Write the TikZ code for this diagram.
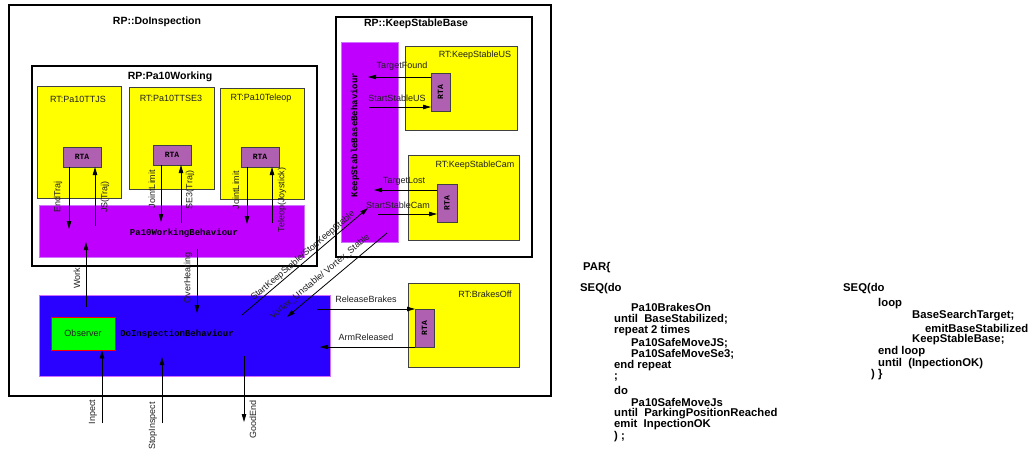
\documentclass[tikz,border=0pt]{standalone}
\usepackage{fontspec}
\setmainfont{Liberation Sans}
\newfontfamily\behfont{Liberation Mono}
\usetikzlibrary{arrows.meta}
\definecolor{rtfill}{HTML}{FFFF00}
\definecolor{rtdraw}{HTML}{404040}
\definecolor{behfill}{HTML}{BF00FF}
\definecolor{behdraw}{HTML}{D070FF}
\definecolor{mainfill}{HTML}{2A00FF}
\definecolor{rtafill}{HTML}{B060B0}
\definecolor{obsfill}{HTML}{00FF00}
\definecolor{lblcol}{HTML}{202020}
\begin{document}
\begin{tikzpicture}[x=1pt,y=-1pt,
  rpbox/.style={draw=black,line width=1.1pt,fill=white,inner sep=0pt,outer sep=0pt},
  rtbox/.style={draw=rtdraw,line width=0.8pt,fill=rtfill,inner sep=0pt,outer sep=0pt},
  behbox/.style={draw=behdraw,line width=0.6pt,fill=behfill,inner sep=0pt,outer sep=0pt},
  rtabox/.style={draw=rtdraw,line width=0.8pt,fill=rtafill,inner sep=0pt,outer sep=0pt,
    font=\behfont\bfseries\fontsize{8}{9}\selectfont},
  rptitle/.style={font=\bfseries\fontsize{10.5}{12}\selectfont,inner sep=0pt},
  rttitle/.style={font=\fontsize{9}{10}\selectfont,text=lblcol,inner sep=0pt},
  lbl/.style={font=\fontsize{9}{10}\selectfont,text=lblcol,inner sep=0pt},
  vlbl/.style={lbl,rotate=90},
  behtext/.style={font=\behfont\bfseries\fontsize{9}{10}\selectfont,inner sep=0pt},
  code/.style={font=\bfseries\fontsize{11.3}{12}\selectfont,inner sep=0pt,anchor=west},
  arr/.style={line width=0.8pt,-{Triangle[length=8pt,width=4.5pt]}},
]
\useasboundingbox (0,0) rectangle (1033,453);

% ---------- RP::DoInspection ----------
\node[rpbox,minimum width=542pt,minimum height=391pt] (outer) at (280,200.5) {};
\node[rptitle] (outert) at (157,22) {RP::DoInspection};

% ---------- RP:Pa10Working ----------
\node[rpbox,minimum width=285pt,minimum height=200pt] (pw) at (174.5,166) {};
\node[rptitle] (pwt) at (170,77) {RP:Pa10Working};

\node[rtbox,minimum width=84pt,minimum height=112pt] (ttjs) at (79,142) {};
\node[rttitle] at (78,99) {RT:Pa10TTJS};
\node[rtbox,minimum width=85pt,minimum height=102pt] (ttse) at (171.5,138) {};
\node[rttitle] at (171,98) {RT:Pa10TTSE3};
\node[rtbox,minimum width=84pt,minimum height=111pt] (tele) at (262,143.5) {};
\node[rttitle] at (261,98) {RT:Pa10Teleop};

\node[behbox,minimum width=265pt,minimum height=52pt] (pwb) at (171.5,231) {};
\node[behtext] at (184,233) {Pa10WorkingBehaviour};

\node[rtabox,minimum width=38pt,minimum height=20pt] (rta1) at (82,157) {RTA};
\node[rtabox,minimum width=38pt,minimum height=20pt] (rta2) at (172,155) {RTA};
\node[rtabox,minimum width=38pt,minimum height=20pt] (rta3) at (260,157) {RTA};

% ---------- DoInspection behaviour ----------
\node[draw=behdraw,line width=0.8pt,fill=mainfill,inner sep=0pt,minimum width=291pt,minimum height=81pt] (dib) at (184.5,335.5) {};
\node[behtext] at (177,334) {DoInspectionBehaviour};
\node[draw=red,line width=0.8pt,fill=obsfill,inner sep=0pt,minimum width=64pt,minimum height=33pt,
  font=\fontsize{9}{10}\selectfont,text=lblcol] (obs) at (83,333.5) {Observer};

% ---------- RP::KeepStableBase ----------
\node[rpbox,minimum width=196pt,minimum height=240pt] (ksb) at (434,137) {};
\node[rptitle] at (416,24) {RP::KeepStableBase};
\node[behbox,minimum width=57pt,minimum height=200pt] (ksbb) at (369.5,142) {};
\node[behtext,rotate=90] at (355,135) {KeepStableBaseBehaviour};

\node[rtbox,minimum width=112pt,minimum height=84pt] (ksus) at (461,88) {};
\node[rttitle] at (475,55) {RT:KeepStableUS};
\node[rtabox,minimum width=19pt,minimum height=38pt] (rtaus) at (440.5,92) {\rotatebox{90}{RTA}};

\node[rtbox,minimum width=111pt,minimum height=85pt] (kscam) at (463.5,197.5) {};
\node[rttitle] at (475,165) {RT:KeepStableCam};
\node[rtabox,minimum width=20pt,minimum height=38pt] (rtacam) at (447,203) {\rotatebox{90}{RTA}};

% ---------- RT:BrakesOff ----------
\node[rtbox,minimum width=111pt,minimum height=84pt] (brk) at (463.5,325) {};
\node[rttitle] at (485,294) {RT:BrakesOff};
\node[rtabox,minimum width=19pt,minimum height=38pt] (rtabr) at (424.5,328) {\rotatebox{90}{RTA}};

% ---------- free ends of the events ----------
\coordinate (eEnd) at (69,229);
\coordinate (eJS) at (95,226);
\coordinate (eJL1) at (161,222);
\coordinate (eSE) at (181,223);
\coordinate (eJL2) at (247,224);
\coordinate (eTel) at (272,223);
\coordinate (eWorkA) at (86,307);
\coordinate (eWorkB) at (86,242);
\coordinate (eOvA) at (197,249);
\coordinate (eOvB) at (197,313);
\coordinate (eInp) at (102,423);
\coordinate (eStopA) at (162,423);
\coordinate (eStopB) at (162,357);
\coordinate (eGoodA) at (244,356);
\coordinate (eGoodB) at (244,422);
\coordinate (eKsA) at (242,315);
\coordinate (eKsB) at (368,208);
\coordinate (eVxA) at (387,233);
\coordinate (eVxB) at (287,317);
\coordinate (eTF) at (368,77);
\coordinate (eSUS) at (369,107);
\coordinate (eTL) at (374,190);
\coordinate (eSCam) at (378,214);
\coordinate (eRel) at (317,309);
\coordinate (eArm) at (320,347);

% ---------- Pa10Working events ----------
\draw[arr] (rta1.south -| eEnd) -- (eEnd);
\node[vlbl] at (58,197) {EndTraj};
\draw[arr] (eJS) -- (rta1.south -| eJS);
\node[vlbl] at (105,197) {JS(Traj)};
\draw[arr] (rta2.south -| eJL1) -- (eJL1);
\node[vlbl] at (152,189) {JointLimit};
\draw[arr] (eSE) -- (rta2.south -| eSE);
\node[vlbl] at (190,190) {SE3(Traj)};
\draw[arr] (rta3.south -| eJL2) -- (eJL2);
\node[vlbl] at (236,190) {JointLimit};
\draw[arr] (eTel) -- (rta3.south -| eTel);
\node[vlbl] at (282,200) {Teleop(Joystick)};

% ---------- DoInspection events ----------
\draw[arr] (eWorkA) -- (eWorkB);
\node[vlbl] at (77,278) {Work};
\draw[arr] (eOvA) -- (eOvB);
\node[vlbl] at (188,278) {OverHeating};
\draw[arr] (eInp) -- (obs.south -| eInp);
\node[vlbl] at (93,412) {Inpect};
\draw[arr] (eStopA) -- (eStopB);
\node[vlbl] at (153,426) {StopInspect};
\draw[arr] (eGoodA) -- (eGoodB);
\node[vlbl] at (253,419) {GoodEnd};

\draw[arr] (eKsA) -- (eKsB);
\node[lbl,rotate=40.3] at (303,256) {StartKeepStable/StopKeepStable};
\draw[arr] (eVxA) -- (eVxB);
\node[lbl,rotate=40] at (320,277) {Vortex\_Unstable/ Vortex\_Stable};

% ---------- KeepStableBase events ----------
\draw[arr] (rtaus.west |- eTF) -- (eTF);
\node[lbl] at (402,66) {TargetFound};
\draw[arr] (eSUS) -- (rtaus.west |- eSUS);
\node[lbl] at (397,98) {StartStableUS};
\draw[arr] (rtacam.west |- eTL) -- (eTL);
\node[lbl] at (404,181) {TargetLost};
\draw[arr] (eSCam) -- (rtacam.west |- eSCam);
\node[lbl] at (398,205) {StartStableCam};

% ---------- BrakesOff events ----------
\draw[arr] (eRel) -- (rtabr.west |- eRel);
\node[lbl] at (366,299) {ReleaseBrakes};
\draw[arr] (rtabr.west |- eArm) -- (eArm);
\node[lbl] at (366,337) {ArmReleased};

% ---------- behaviour specification ----------
\node[code] at (583,268) {PAR\{};
\node[code] at (580,289) {SEQ(do};
\node[code] at (631,307) {Pa10BrakesOn};
\node[code] at (614,319) {until\ \ BaseStabilized;};
\node[code] at (614,331) {repeat 2 times};
\node[code] at (631,343) {Pa10SafeMoveJS;};
\node[code] at (631,354) {Pa10SafeMoveSe3;};
\node[code] at (614,366) {end repeat};
\node[code] at (614,378) {;};
\node[code] at (614,390) {do};
\node[code] at (631,402) {Pa10SafeMoveJs};
\node[code] at (614,414) {until\ \ ParkingPositionReached};
\node[code] at (614,425) {emit\ \ InpectionOK};
\node[code] at (614,437) {) ;};

\node[code] at (843,289) {SEQ(do};
\node[code] at (878,304) {loop};
\node[code] at (912,316) {BaseSearchTarget;};
\node[code] at (925,328) {emitBaseStabilized};
\node[code] at (912,340) {KeepStableBase;};
\node[code] at (878,352) {end loop};
\node[code] at (878,364) {until\ \ (InpectionOK)};
\node[code] at (871,375) {) \}};
\end{tikzpicture}
\end{document}
